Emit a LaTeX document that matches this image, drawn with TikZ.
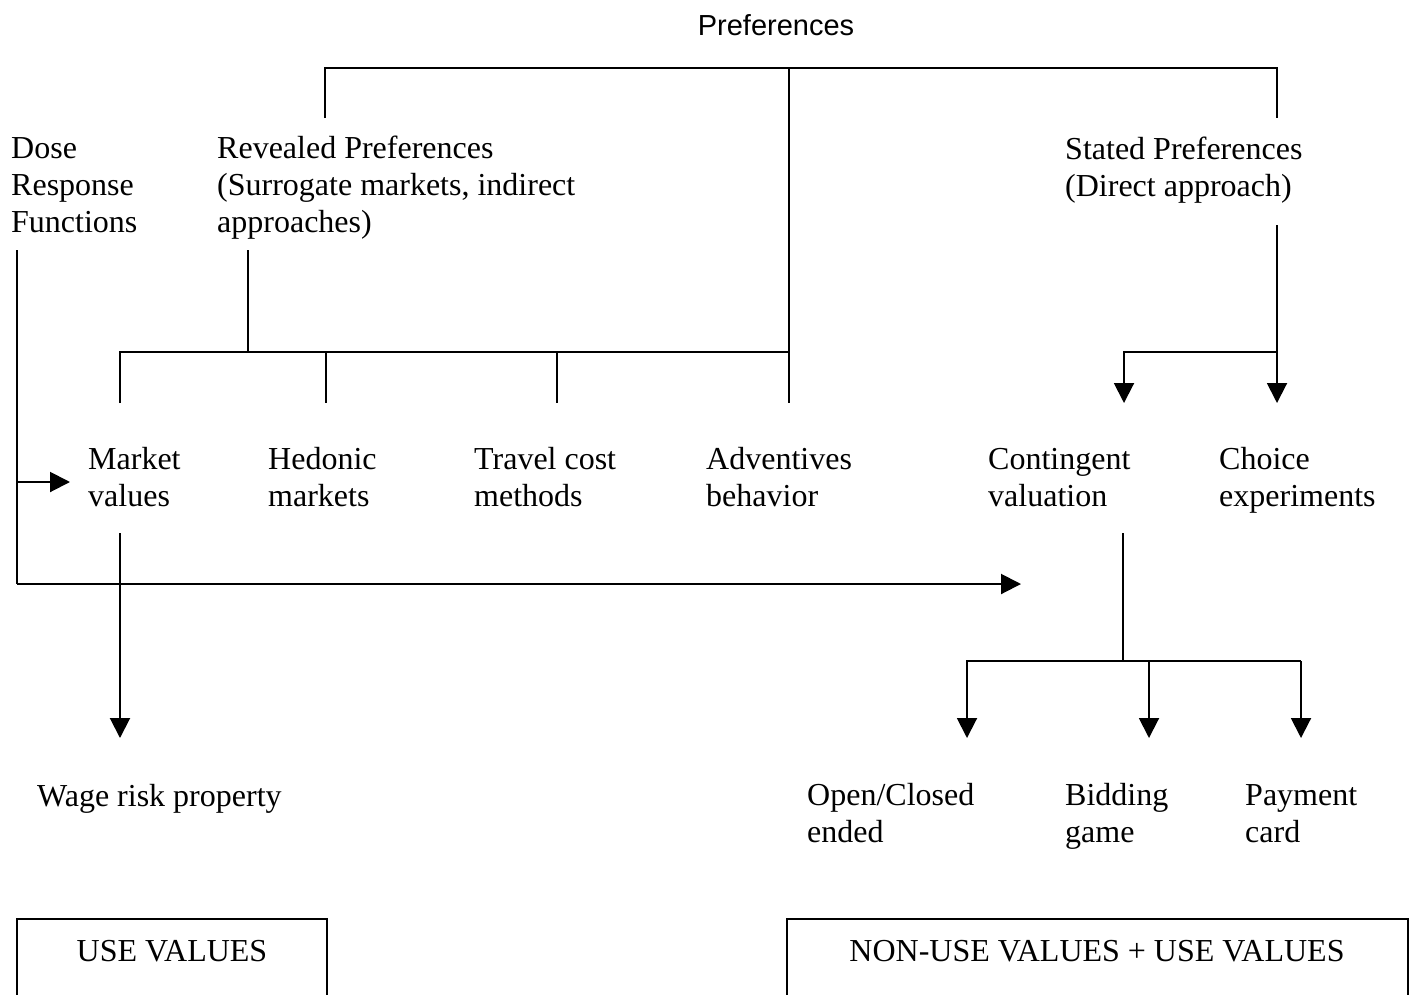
\documentclass[tikz,border=0pt]{standalone}
\usepackage{fontspec}
\setmainfont{Liberation Serif}
\newfontfamily\arialfont{Liberation Sans}
\usetikzlibrary{arrows.meta}
\begin{document}
\begin{tikzpicture}[x=1pt,y=-1pt,
  lbl/.style={anchor=base west,inner sep=0pt,align=left,font=\fontsize{32}{37}\selectfont},
  ln/.style={line width=2pt},
  arr/.style={line width=2pt,-{Triangle[length=20pt,width=20pt]}},
  valbox/.style={draw,line width=2pt}]
\useasboundingbox (0,0) rectangle (1413,994);
\clip (0,0) rectangle (1413,994);
% texts (base anchor = baseline of the last line)
\node[anchor=base,inner sep=0pt,font=\arialfont\fontsize{29}{34}\selectfont] (pref) at (776,35) {Preferences};
\node[lbl] (dose) at (11,232) {Dose\\Response\\Functions};
\node[lbl] (rev) at (217,232) {Revealed Preferences\\(Surrogate markets, indirect\\approaches)};
\node[lbl] (stat) at (1065,196) {Stated Preferences\\(Direct approach)};
\node[lbl] (mv) at (88,506) {Market\\values};
\node[lbl] (hed) at (268,506) {Hedonic\\markets};
\node[lbl] (tc) at (474,506) {Travel cost\\methods};
\node[lbl] (adv) at (706,506) {Adventives\\behavior};
\node[lbl] (cv) at (988,506) {Contingent\\valuation};
\node[lbl] (ce) at (1219,506) {Choice\\experiments};
\node[lbl] (wage) at (37,806) {Wage risk property};
\node[lbl] (oc) at (807,842) {Open/Closed\\ended};
\node[lbl] (bid) at (1065,842) {Bidding\\game};
\node[lbl] (pay) at (1245,842) {Payment\\card};
% boxes
\draw[valbox] (17,919) rectangle (327,1020);
\draw[valbox] (787,919) rectangle (1408,1020);
\node[anchor=base,inner sep=0pt,font=\fontsize{32}{37}\selectfont] (use) at (172,961) {USE VALUES};
\node[anchor=base,inner sep=0pt,font=\fontsize{32}{37}\selectfont] (nonuse) at (1097,961) {NON-USE VALUES + USE VALUES};
% coordinates
\coordinate (tL) at (325,68); \coordinate (tM) at (789,68); \coordinate (tR) at (1277,68);
\coordinate (revT) at (325,118); \coordinate (statT) at (1277,118);
\coordinate (revB) at (248,250); \coordinate (revJ) at (248,352);
\coordinate (hL) at (120,352); \coordinate (hH) at (326,352); \coordinate (hT) at (557,352); \coordinate (hA) at (789,352);
\coordinate (mvT) at (120,403); \coordinate (hedT) at (326,403); \coordinate (tcT) at (557,403); \coordinate (advT) at (789,403);
\coordinate (statB) at (1277,225); \coordinate (sJ) at (1277,352); \coordinate (sL) at (1124,352);
\coordinate (cvT) at (1124,403); \coordinate (ceT) at (1277,403);
\coordinate (doseB) at (17,250); \coordinate (doseJ) at (17,482); \coordinate (doseC) at (17,584);
\coordinate (mvL) at (70,482); \coordinate (cvL) at (1021,584);
\coordinate (mvB) at (120,533); \coordinate (wageT) at (120,738);
\coordinate (cvB) at (1123,533); \coordinate (cJ) at (1123,661);
\coordinate (c1) at (967,661); \coordinate (c2) at (1149,661); \coordinate (c3) at (1301,661);
\coordinate (ocT) at (967,738); \coordinate (bidT) at (1149,738); \coordinate (payT) at (1301,738);
% lines
\draw[ln] (revT) -- (tL) -- (tR) -- (statT);
\draw[ln] (tM) -- (advT);
\draw[ln] (revB) -- (revJ);
\draw[ln] (mvT) -- (hL) -- (hA);
\draw[ln] (hH) -- (hedT);
\draw[ln] (hT) -- (tcT);
\draw[arr] (statB) -- (ceT);
\draw[arr] (sJ) -- (sL) -- (cvT);
\draw[ln] (doseB) -- (doseC);
\draw[arr] (doseJ) -- (mvL);
\draw[arr] (doseC) -- (cvL);
\draw[arr] (mvB) -- (wageT);
\draw[ln] (cvB) -- (cJ);
\draw[arr] (c2) -- (c1) -- (ocT);
\draw[ln] (c2) -- (c3);
\draw[arr] (c3) -- (payT);
\draw[arr] (c2) -- (bidT);
\end{tikzpicture}
\end{document}
